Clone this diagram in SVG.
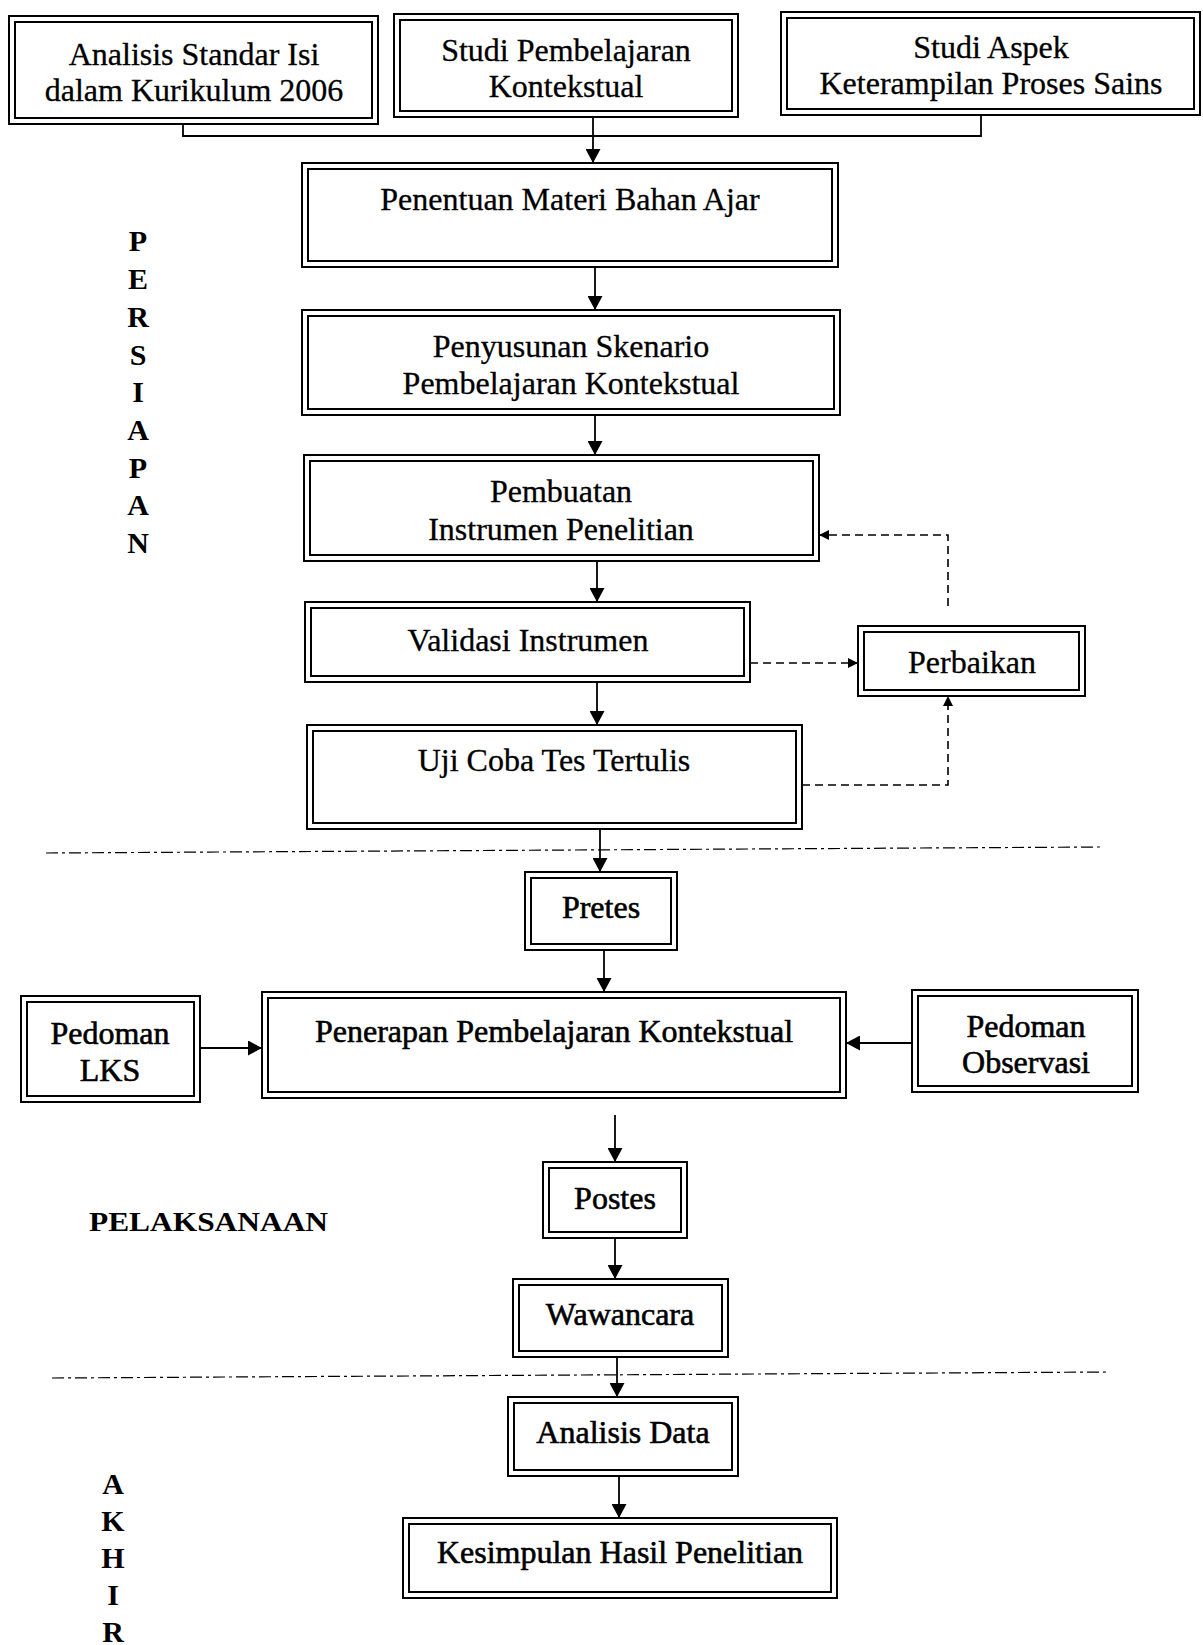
<svg xmlns="http://www.w3.org/2000/svg" width="1203" height="1645" viewBox="0 0 1203 1645">
<style>
.o{fill:#fff;stroke:#000;stroke-width:2}
.i{fill:none;stroke:#000;stroke-width:2}
.t{font-family:"Liberation Serif","Times New Roman",serif;font-size:32px;text-anchor:middle;fill:#000;stroke:#000;stroke-width:0.3}
.h{stroke-width:0.6}
.L{font-family:"Liberation Serif","Times New Roman",serif;font-size:30px;font-weight:bold;text-anchor:middle;fill:#000}
.c{fill:none;stroke:#000;stroke-width:1.8}
.d{fill:none;stroke:#000;stroke-width:1.6;stroke-dasharray:8 5}
.s{fill:none;stroke:#000;stroke-width:1.2;stroke-dasharray:12 4 3 4}
</style>
<defs>
<marker id="ah" markerUnits="userSpaceOnUse" markerWidth="15" markerHeight="15" refX="14" refY="7.5" orient="auto"><path d="M0,0 L14,7.5 L0,15 z" fill="#000"/></marker>
<marker id="as" markerUnits="userSpaceOnUse" markerWidth="11" markerHeight="11" refX="10" refY="5" orient="auto"><path d="M0,0 L10,5 L0,10 z" fill="#000"/></marker>
</defs>
<rect width="1203" height="1645" fill="#fff"/>

<g id="phase-labels">
<text class="L" x="138" y="251">P</text>
<text class="L" x="138" y="289">E</text>
<text class="L" x="138" y="327">R</text>
<text class="L" x="138" y="365">S</text>
<text class="L" x="138" y="402">I</text>
<text class="L" x="138" y="440">A</text>
<text class="L" x="138" y="478">P</text>
<text class="L" x="138" y="515">A</text>
<text class="L" x="138" y="553">N</text>
<text class="L" x="89" y="1231" style="text-anchor:start;font-size:27px" textLength="239" lengthAdjust="spacingAndGlyphs">PELAKSANAAN</text>
<text class="L" x="113" y="1494">A</text>
<text class="L" x="113" y="1531">K</text>
<text class="L" x="113" y="1568">H</text>
<text class="L" x="113" y="1605">I</text>
<text class="L" x="113" y="1642">R</text>
</g>

<g id="separators">
<path class="s" d="M46,853 L1100,847"/>
<path class="s" d="M52,1378 L1110,1372"/>
</g>

<g id="connectors">
<path class="c" d="M183,124 V136 H981 V115"/>
<path class="c" d="M593,117 V163" marker-end="url(#ah)"/>
<path class="c" d="M595,267 V310" marker-end="url(#ah)"/>
<path class="c" d="M595,415 V455" marker-end="url(#ah)"/>
<path class="c" d="M597,561 V602" marker-end="url(#ah)"/>
<path class="c" d="M597,682 V725" marker-end="url(#ah)"/>
<path class="c" d="M600,829 V872" marker-end="url(#ah)"/>
<path class="c" d="M604,950 V992" marker-end="url(#ah)"/>
<path class="c" d="M200,1048 H262" marker-end="url(#ah)"/>
<path class="c" d="M912,1043 H846" marker-end="url(#ah)"/>
<path class="c" d="M615,1115 V1162" marker-end="url(#ah)"/>
<path class="c" d="M615,1238 V1279" marker-end="url(#ah)"/>
<path class="c" d="M617,1357 V1397" marker-end="url(#ah)"/>
<path class="c" d="M619,1476 V1518" marker-end="url(#ah)"/>
<path class="d" d="M750,663 H858" marker-end="url(#as)"/>
<path class="d" d="M802,785 H948 V696" marker-end="url(#as)"/>
<path class="d" d="M948,606 V535 H819" marker-end="url(#as)"/>
</g>

<g id="n1"><rect class="o" x="9" y="16" width="369" height="108"/><rect class="i" x="15" y="22" width="357" height="96"/>
<text class="t" x="194" y="65">Analisis Standar Isi</text>
<text class="t" x="194" y="101">dalam Kurikulum 2006</text></g>

<g id="n2"><rect class="o" x="394" y="14" width="344" height="103"/><rect class="i" x="400" y="20" width="332" height="91"/>
<text class="t" x="566" y="61">Studi Pembelajaran</text>
<text class="t" x="566" y="97">Kontekstual</text></g>

<g id="n3"><rect class="o" x="781" y="12" width="419" height="103"/><rect class="i" x="787" y="18" width="407" height="91"/>
<text class="t" x="991" y="58">Studi Aspek</text>
<text class="t" x="991" y="94">Keterampilan Proses Sains</text></g>

<g id="n4"><rect class="o" x="302" y="163" width="536" height="104"/><rect class="i" x="308" y="169" width="524" height="92"/>
<text class="t" x="570" y="210">Penentuan Materi Bahan Ajar</text></g>

<g id="n5"><rect class="o" x="302" y="310" width="538" height="105"/><rect class="i" x="308" y="316" width="526" height="93"/>
<text class="t" x="571" y="357">Penyusunan Skenario</text>
<text class="t" x="571" y="394">Pembelajaran Kontekstual</text></g>

<g id="n6"><rect class="o" x="304" y="455" width="515" height="106"/><rect class="i" x="310" y="461" width="503" height="94"/>
<text class="t" x="561" y="502">Pembuatan</text>
<text class="t" x="561" y="540">Instrumen Penelitian</text></g>

<g id="n7"><rect class="o" x="305" y="602" width="445" height="80"/><rect class="i" x="311" y="608" width="433" height="68"/>
<text class="t" x="528" y="651">Validasi Instrumen</text></g>

<g id="n8"><rect class="o" x="858" y="626" width="227" height="70"/><rect class="i" x="864" y="632" width="215" height="58"/>
<text class="t" x="972" y="673">Perbaikan</text></g>

<g id="n9"><rect class="o" x="307" y="725" width="495" height="104"/><rect class="i" x="313" y="731" width="483" height="92"/>
<text class="t" x="554" y="771">Uji Coba Tes Tertulis</text></g>

<g id="n10"><rect class="o" x="525" y="872" width="152" height="78"/><rect class="i" x="531" y="878" width="140" height="66"/>
<text class="t h" x="601" y="918">Pretes</text></g>

<g id="n11"><rect class="o" x="21" y="996" width="179" height="106"/><rect class="i" x="27" y="1002" width="167" height="94"/>
<text class="t h" x="110" y="1044">Pedoman</text>
<text class="t h" x="110" y="1081">LKS</text></g>

<g id="n12"><rect class="o" x="262" y="992" width="584" height="106"/><rect class="i" x="268" y="998" width="572" height="94"/>
<text class="t h" x="554" y="1042">Penerapan Pembelajaran Kontekstual</text></g>

<g id="n13"><rect class="o" x="912" y="990" width="226" height="102"/><rect class="i" x="918" y="996" width="214" height="90"/>
<text class="t h" x="1026" y="1037">Pedoman</text>
<text class="t h" x="1026" y="1073">Observasi</text></g>

<g id="n14"><rect class="o" x="543" y="1162" width="144" height="76"/><rect class="i" x="549" y="1168" width="132" height="64"/>
<text class="t h" x="615" y="1209">Postes</text></g>

<g id="n15"><rect class="o" x="513" y="1279" width="215" height="78"/><rect class="i" x="519" y="1285" width="203" height="66"/>
<text class="t h" x="620" y="1325">Wawancara</text></g>

<g id="n16"><rect class="o" x="508" y="1397" width="230" height="79"/><rect class="i" x="514" y="1403" width="218" height="67"/>
<text class="t h" x="623" y="1443">Analisis Data</text></g>

<g id="n17"><rect class="o" x="403" y="1518" width="434" height="80"/><rect class="i" x="409" y="1524" width="422" height="68"/>
<text class="t h" x="620" y="1563">Kesimpulan Hasil Penelitian</text></g>
</svg>
